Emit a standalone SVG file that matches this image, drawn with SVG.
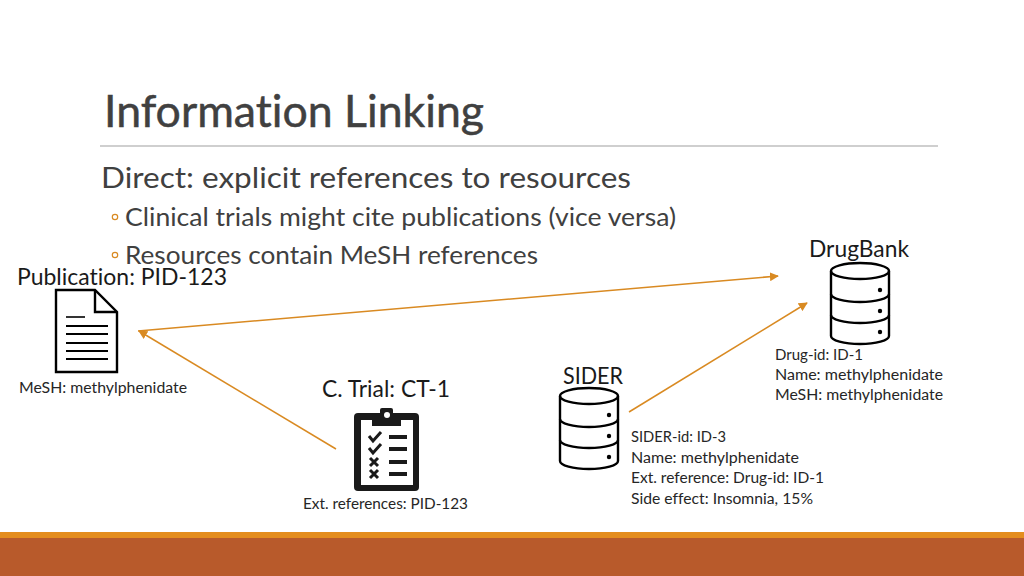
<svg xmlns="http://www.w3.org/2000/svg" width="1024" height="576" viewBox="0 0 1024 576">
<style>
text{font-family:"Lato","Open Sans",sans-serif;font-variant-ligatures:none}
.title{font-size:45px;fill:#404040;stroke:#404040;stroke-width:.5}
.b1{font-size:29.5px;fill:#404040}
.b2{font-size:25.5px;fill:#404040}
.lab{font-size:24px;fill:#1a1a1a}
.sm{font-size:15.5px;fill:#262626}
.ln{stroke:#D98A22;stroke-width:1.5;fill:none}
.ic{fill:none;stroke:#000;stroke-width:2.4}
.k{stroke:#000;fill:none}
</style>
<defs>
<marker id="ah" viewBox="0 0 10 10" refX="9" refY="5" markerWidth="9" markerHeight="9" markerUnits="userSpaceOnUse" orient="auto"><path d="M0 0L10 5L0 10Z" fill="#D98A22"/></marker>
<g id="cyl">
<path class="ic" d="M1 13A29 8 0 0 1 59 13V78A29 8 0 0 1 1 78Z"/>
<path class="ic" d="M1 13A29 8 0 0 0 59 13"/>
<path class="ic" d="M1 36A29 8 0 0 0 59 36"/>
<path class="ic" d="M1 57A29 8 0 0 0 59 57"/>
<circle cx="50" cy="32" r="2.2"/><circle cx="50" cy="53" r="2.2"/><circle cx="50" cy="74" r="2.2"/>
</g>
</defs>
<rect width="1024" height="576" fill="#fff"/>
<g id="footer"><rect y="532" width="1024" height="6" fill="#E48D1E"/><rect y="538" width="1024" height="38" fill="#B85A2B"/></g>
<g id="header">
<text class="title" x="104" y="127" textLength="380" lengthAdjust="spacingAndGlyphs">Information Linking</text>
<rect x="100" y="145" width="838" height="2" fill="#cfcfcf"/>
<text class="b1" x="101" y="188" textLength="530" lengthAdjust="spacingAndGlyphs">Direct: explicit references to resources</text>
<circle cx="115" cy="217" r="2.7" fill="none" stroke="#D98A22" stroke-width="1.2"/>
<text class="b2" x="125" y="226" textLength="551" lengthAdjust="spacingAndGlyphs">Clinical trials might cite publications (vice versa)</text>
<circle cx="115" cy="255" r="2.7" fill="none" stroke="#D98A22" stroke-width="1.2"/>
<text class="b2" x="125" y="264" textLength="413" lengthAdjust="spacingAndGlyphs">Resources contain MeSH references</text>
</g>
<g id="connectors">
<line class="ln" x1="138" y1="331" x2="778" y2="276" marker-end="url(#ah)"/>
<line class="ln" x1="336" y1="449" x2="139" y2="331" marker-end="url(#ah)"/>
<line class="ln" x1="629" y1="412" x2="807" y2="303" marker-end="url(#ah)"/>
</g>
<g id="publication">
<text class="lab" x="17" y="285" textLength="210" lengthAdjust="spacingAndGlyphs">Publication: PID-123</text>
<path class="ic" d="M56 290H95L117 312V372H56Z"/><path class="ic" d="M95 290V312H117"/>
<path class="k" stroke-width="1.6" d="M66 317H85"/>
<path class="k" stroke-width="2" d="M66 326H108M66 334H108M66 343H108M66 351H108M66 359H108"/>
<text class="sm" x="19" y="393" textLength="168" lengthAdjust="spacingAndGlyphs">MeSH: methylphenidate</text>
</g>
<g id="trial">
<text class="lab" x="322" y="397" textLength="128" lengthAdjust="spacingAndGlyphs">C. Trial: CT-1</text>
<rect x="354" y="413" width="65" height="78" rx="4" fill="#1a1a1a"/>
<rect x="361" y="420" width="52" height="65" fill="#fff"/>
<path d="M372 426V415H380V410Q380 408 382 408H391Q393 408 393 410V415H401V426Z" fill="#1a1a1a"/>
<circle cx="387" cy="415" r="3" fill="#fff"/>
<path d="M389 437H407M389 449H407M389 462H407M389 474H407" stroke="#1a1a1a" stroke-width="4" fill="none"/>
<path d="M369 436L373 441L381 432M369 448L373 453L381 444" stroke="#1a1a1a" stroke-width="3" fill="none"/>
<path d="M370 458L378 466M378 458L370 466M370 470L378 478M378 470L370 478" stroke="#1a1a1a" stroke-width="3" fill="none"/>
<text class="sm" x="303" y="509" textLength="165" lengthAdjust="spacingAndGlyphs">Ext. references: PID-123</text>
</g>
<g id="sider">
<text class="lab" x="563" y="384" textLength="60" lengthAdjust="spacingAndGlyphs">SIDER</text>
<use href="#cyl" x="559" y="383"/>
<text class="sm" x="631" y="442" textLength="95" lengthAdjust="spacingAndGlyphs">SIDER-id: ID-3</text>
<text class="sm" x="631" y="463" textLength="168" lengthAdjust="spacingAndGlyphs">Name: methylphenidate</text>
<text class="sm" x="631" y="483" textLength="193" lengthAdjust="spacingAndGlyphs">Ext. reference: Drug-id: ID-1</text>
<text class="sm" x="631" y="504" textLength="182" lengthAdjust="spacingAndGlyphs">Side effect: Insomnia, 15%</text>
</g>
<g id="drugbank">
<text class="lab" x="809" y="257" textLength="100" lengthAdjust="spacingAndGlyphs">DrugBank</text>
<use href="#cyl" x="830" y="258"/>
<text class="sm" x="775" y="360" textLength="88" lengthAdjust="spacingAndGlyphs">Drug-id: ID-1</text>
<text class="sm" x="775" y="380" textLength="168" lengthAdjust="spacingAndGlyphs">Name: methylphenidate</text>
<text class="sm" x="775" y="400" textLength="168" lengthAdjust="spacingAndGlyphs">MeSH: methylphenidate</text>
</g>
</svg>
